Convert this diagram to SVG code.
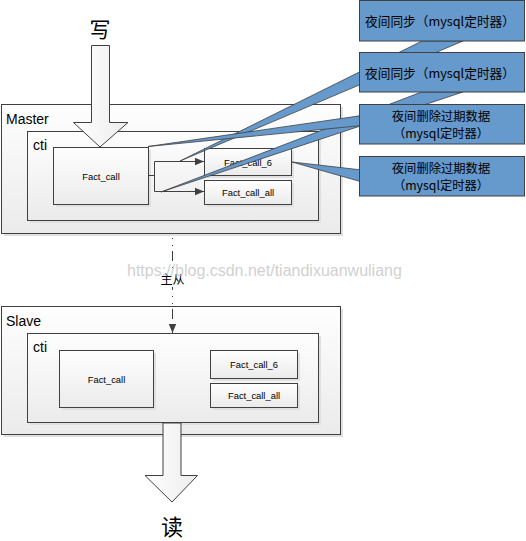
<svg xmlns="http://www.w3.org/2000/svg" width="526" height="541" viewBox="0 0 526 541">
<defs>
<linearGradient id="boxfill" x1="0" y1="0" x2="0" y2="1">
<stop offset="0" stop-color="#fefefe"/>
<stop offset="1" stop-color="#ebebeb"/>
</linearGradient>
<linearGradient id="arrowfill" x1="0" y1="0" x2="1" y2="0">
<stop offset="0" stop-color="#ffffff"/>
<stop offset="1" stop-color="#ececec"/>
</linearGradient>
<marker id="ah" markerUnits="userSpaceOnUse" markerWidth="10" markerHeight="8" refX="9" refY="4" orient="auto">
<path d="M0,0.3 L9,4 L0,7.7 z" fill="#404040"/>
</marker>
</defs>
<style>
.box{fill:url(#boxfill);stroke:#404040;stroke-width:1}
.shadow{fill:#e0e0e0}
.lbl{font-family:"Liberation Sans",Arial,sans-serif;font-size:14px;fill:#000}
.sm{font-family:"Liberation Sans",Arial,sans-serif;font-size:9.4px;fill:#000;text-anchor:middle;dominant-baseline:central}
.cj{font-family:"Noto Sans CJK SC",sans-serif;fill:#000;text-anchor:middle;dominant-baseline:central}
.co{fill:#6699cc;stroke:#404040;stroke-width:1}
.tail{fill:#6699cc;stroke:#404040;stroke-width:0.8;stroke-linejoin:miter}
.line{fill:none;stroke:#404040;stroke-width:1}
.blk{fill:url(#arrowfill);stroke:#404040;stroke-width:1}
</style>
<rect width="526" height="541" fill="#ffffff"/>

<g id="master">
<rect class="shadow" x="4" y="107" width="339" height="129"/>
<rect class="box" x="1.5" y="104.5" width="339" height="129"/>
<text class="lbl" x="6" y="123.5">Master</text>
</g>
<g id="master-cti">
<rect class="shadow" x="30" y="134" width="291" height="89"/>
<rect class="box" x="27.5" y="131.5" width="291" height="89"/>
<text class="lbl" x="33" y="150">cti</text>
</g>
<g id="master-fact-call">
<rect class="shadow" x="56" y="150" width="95" height="57"/>
<rect class="box" x="53.5" y="147.5" width="95" height="57"/>
<text class="sm" x="101" y="176">Fact_call</text>
</g>
<g id="master-fact-call-6">
<rect class="shadow" x="207" y="151" width="87" height="27"/>
<rect class="box" x="204.5" y="148.5" width="87" height="27"/>
<text class="sm" x="248" y="162">Fact_call_6</text>
</g>
<g id="master-fact-call-all">
<rect class="shadow" x="207" y="183" width="87" height="24"/>
<rect class="box" x="204.5" y="180.5" width="87" height="24"/>
<text class="sm" x="248" y="192.5">Fact_call_all</text>
</g>

<g id="slave">
<rect class="shadow" x="4" y="309" width="339" height="128"/>
<rect class="box" x="1.5" y="306.5" width="339" height="128"/>
<text class="lbl" x="6" y="325.5">Slave</text>
</g>
<g id="slave-cti">
<rect class="shadow" x="30" y="336" width="291" height="89"/>
<rect class="box" x="27.5" y="333.5" width="291" height="89"/>
<text class="lbl" x="33" y="351.5">cti</text>
</g>
<g id="slave-fact-call">
<rect class="shadow" x="62" y="353" width="94" height="57"/>
<rect class="box" x="59.5" y="350.5" width="94" height="57"/>
<text class="sm" x="106.5" y="379">Fact_call</text>
</g>
<g id="slave-fact-call-6">
<rect class="shadow" x="213" y="353" width="87" height="28"/>
<rect class="box" x="210.5" y="350.5" width="87" height="28"/>
<text class="sm" x="254" y="364.5">Fact_call_6</text>
</g>
<g id="slave-fact-call-all">
<rect class="shadow" x="213" y="386" width="87" height="24"/>
<rect class="box" x="210.5" y="383.5" width="87" height="24"/>
<text class="sm" x="254" y="395.5">Fact_call_all</text>
</g>

<g id="write-arrow">
<polygon class="blk" points="91.5,45.5 109.5,45.5 109.5,122.5 128,122.5 100,147 73.5,122.5 91.5,122.5"/>
<text class="cj" x="100" y="28" font-size="21">写</text>
</g>
<g id="read-arrow">
<polygon class="blk" points="163,423 181,423 181,475.5 197.5,475.5 172,502 145,475.5 163,475.5"/>
<text class="cj" x="172" y="525" font-size="22">读</text>
</g>

<g id="connectors">
<path class="line" d="M148.5,175.5 H154.5"/>
<path class="line" d="M154.5,161.5 V191.5"/>
<path class="line" d="M154.5,161.5 H204" marker-end="url(#ah)"/>
<path class="line" d="M154.5,191.5 H204" marker-end="url(#ah)"/>
<path class="line" d="M172.5,234 V333" stroke-dasharray="10 6 1 6 1 5" stroke-dashoffset="12" marker-end="url(#ah)"/>
<rect x="160" y="268" width="25" height="19" fill="#ffffff"/>
<text class="cj" x="172.5" y="278" font-size="12">主从</text>
</g>

<g id="callout-1">
<polygon class="tail" points="422,41 463,41 180,161"/>
<rect class="co" x="359.5" y="0.5" width="165" height="40.5"/>
<text class="cj" x="440" y="20" font-size="12.7">夜间同步（mysql定时器）</text>
</g>
<g id="callout-2">
<polygon class="tail" points="421.5,92 463,92 161,192"/>
<rect class="co" x="359.5" y="52.5" width="165" height="39.5"/>
<text class="cj" x="440" y="72" font-size="12.7">夜间同步（mysql定时器）</text>
</g>
<g id="callout-3">
<polygon class="tail" points="148,146.5 362,115.5 362,125.5"/>
<rect class="co" x="359.5" y="104.5" width="165" height="39.5"/>
<text class="cj" x="441" y="115.5" font-size="12.3">夜间删除过期数据</text>
<text class="cj" x="441" y="132.5" font-size="12.3">（mysql定时器）</text>
</g>
<g id="callout-4">
<polygon class="tail" points="292,162 362,170 362,182"/>
<rect class="co" x="359.5" y="156.5" width="165" height="39.5"/>
<text class="cj" x="441" y="167.5" font-size="12.3">夜间删除过期数据</text>
<text class="cj" x="441" y="184.5" font-size="12.3">（mysql定时器）</text>
</g>

<text x="127" y="276" font-family="'Liberation Sans',Arial,sans-serif" font-size="16" fill="#c4c4c4" fill-opacity="0.8">https://blog.csdn.net/tiandixuanwuliang</text>
</svg>
